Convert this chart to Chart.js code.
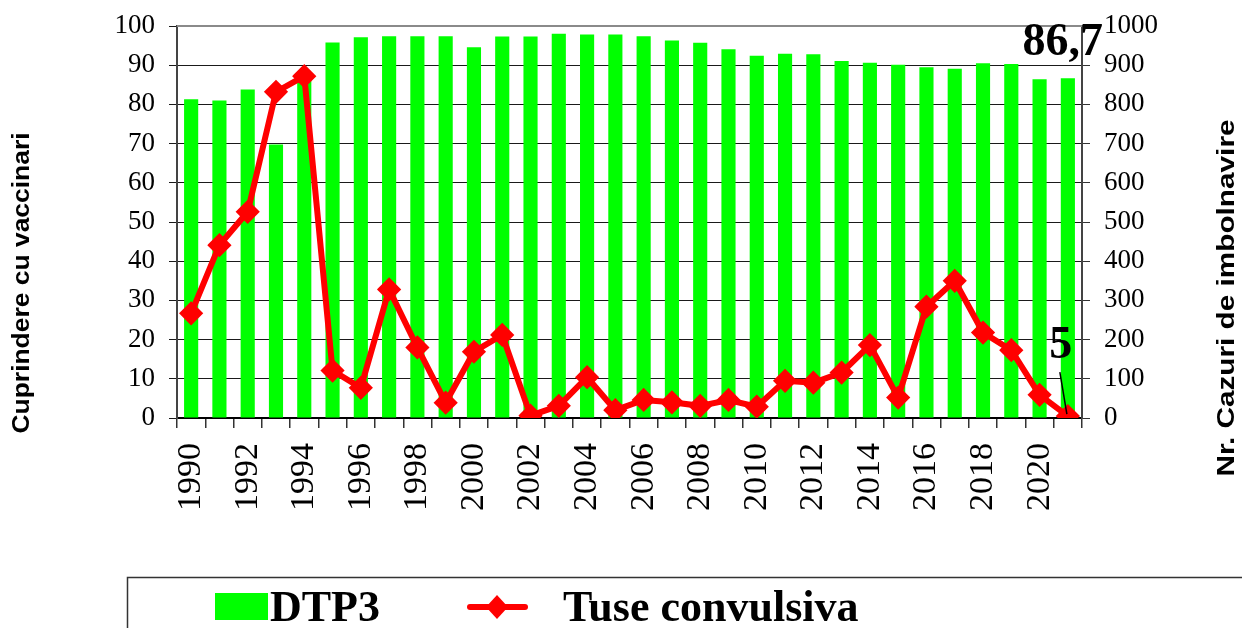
<!DOCTYPE html>
<html>
<head>
<meta charset="utf-8">
<script src="https://cdn.jsdelivr.net/npm/chart.js@4.4.1/dist/chart.umd.min.js"></script>
<style>
  html, body { margin: 0; padding: 0; background: #fff; }
  #wrap { width: 1242px; height: 628px; }
</style>
</head>
<body>
<div id="wrap"><canvas id="c" width="1242" height="628"></canvas></div>
<script>
const years = ['1990','1991','1992','1993','1994','1995','1996','1997','1998','1999',
               '2000','2001','2002','2003','2004','2005','2006','2007','2008','2009',
               '2010','2011','2012','2013','2014','2015','2016','2017','2018','2019',
               '2020','2021'];
const dtp3 = [81.3, 81.0, 83.8, 69.8, 87.0, 95.8, 97.1, 97.4, 97.4, 97.4,
              94.6, 97.3, 97.3, 98.0, 97.8, 97.8, 97.4, 96.3, 95.7, 94.1,
              92.4, 92.9, 92.8, 91.1, 90.6, 90.1, 89.5, 89.1, 90.5, 90.3,
              86.4, 86.7];
const tuse = [267, 441, 526, 832, 872, 121, 77, 328, 180, 39,
              169, 212, 6, 31, 104, 20, 46, 40, 31, 46,
              29, 95, 90, 116, 186, 52, 284, 350, 218, 173,
              59, 5];
const seriesNames = ['DTP3', 'Tuse convulsiva'];
const leftTitle = 'Cuprindere cu vaccinari';
const rightTitle = 'Nr. Cazuri de imbolnavire';

const GREEN = '#00FF00';
const RED = '#FF0000';
const SERIF = '"Liberation Serif", "Times New Roman", serif';
const SANS = '"Liberation Sans", Arial, sans-serif';

const extras = {
  id: 'extras',
  afterDraw(chart) {
    const ctx = chart.ctx;
    const area = chart.chartArea;
    ctx.save();
    // top border
    ctx.strokeStyle = '#8a8a8a';
    ctx.lineWidth = 2;
    ctx.beginPath();
    ctx.moveTo(area.left, area.top);
    ctx.lineTo(area.right, area.top);
    ctx.stroke();

    // data labels on last items
    const barMeta = chart.getDatasetMeta(1);
    const lineMeta = chart.getDatasetMeta(0);
    const lastBar = barMeta.data[barMeta.data.length - 1];
    const lastPt = lineMeta.data[lineMeta.data.length - 1];
    ctx.fillStyle = '#000';
    ctx.font = 'bold 46px ' + SERIF;
    ctx.textAlign = 'center';
    ctx.textBaseline = 'alphabetic';
    const barTxt = String(dtp3[dtp3.length - 1]).replace('.', ',');
    ctx.fillText(barTxt, lastBar.x - 5, lastBar.y - 23);
    const ptTxt = String(tuse[tuse.length - 1]);
    ctx.fillText(ptTxt, lastPt.x - 7, lastPt.y - 58);
    ctx.strokeStyle = '#000';
    ctx.lineWidth = 1.5;
    ctx.beginPath();
    ctx.moveTo(lastPt.x - 8, lastPt.y - 44);
    ctx.lineTo(lastPt.x - 1, lastPt.y - 2);
    ctx.stroke();

    // axis titles
    function vText(t, cx, cy, len) {
      ctx.save();
      ctx.font = 'bold 23px ' + SANS;
      ctx.fillStyle = '#000';
      ctx.translate(cx, cy);
      ctx.rotate(-Math.PI / 2);
      const w = ctx.measureText(t).width;
      ctx.scale(len / w, 1);
      ctx.textAlign = 'center';
      ctx.textBaseline = 'middle';
      ctx.fillText(t, 0, 0);
      ctx.restore();
    }
    vText(leftTitle, 23, 283, 301);
    vText(rightTitle, 1228, 298, 357);

    // legend
    ctx.strokeStyle = '#333';
    ctx.lineWidth = 1.5;
    ctx.strokeRect(127.5, 577.5, 1200, 120);
    const ds = chart.data.datasets;
    const barDs = ds[1], lineDs = ds[0];
    ctx.fillStyle = barDs.backgroundColor;
    ctx.fillRect(215, 593, 53, 27);
    ctx.fillStyle = '#000';
    ctx.font = 'bold 44px ' + SERIF;
    ctx.textAlign = 'left';
    ctx.textBaseline = 'alphabetic';
    ctx.fillText(barDs.label, 270, 621);
    ctx.strokeStyle = lineDs.borderColor;
    ctx.lineWidth = 6;
    ctx.lineCap = 'round';
    ctx.beginPath();
    ctx.moveTo(470, 607);
    ctx.lineTo(525, 607);
    ctx.stroke();
    ctx.fillStyle = lineDs.borderColor;
    ctx.beginPath();
    ctx.moveTo(497, 595); ctx.lineTo(508, 607); ctx.lineTo(497, 619); ctx.lineTo(486, 607);
    ctx.closePath();
    ctx.fill();
    ctx.fillStyle = '#000';
    ctx.fillText(lineDs.label, 563, 621);
    ctx.restore();
  }
};

new Chart(document.getElementById('c'), {
  data: {
    labels: years,
    datasets: [
      {
        type: 'line',
        label: seriesNames[1],
        data: tuse,
        yAxisID: 'y1',
        borderColor: RED,
        backgroundColor: RED,
        borderWidth: 6,
        pointStyle: 'rectRot',
        pointRadius: 10,
        pointBorderWidth: 3,
        pointBackgroundColor: RED,
        pointBorderColor: RED,
        tension: 0,
        order: 1
      },
      {
        type: 'bar',
        label: seriesNames[0],
        data: dtp3,
        yAxisID: 'y',
        backgroundColor: GREEN,
        borderWidth: 0,
        categoryPercentage: 1.0,
        barPercentage: 0.5,
        order: 2
      }
    ]
  },
  options: {
    responsive: false,
    animation: false,
    layout: { padding: { top: 26, left: 0, right: 0, bottom: 0 } },
    plugins: { legend: { display: false }, tooltip: { enabled: false } },
    scales: {
      x: {
        offset: true,
        grid: { display: true, offset: true, drawOnChartArea: false, drawTicks: true, tickLength: 10, color: '#333', lineWidth: 1.5 },
        border: { display: true, color: '#000', width: 2 },
        ticks: {
          autoSkip: false,
          minRotation: 90,
          maxRotation: 90,
          padding: 15,
          color: '#000',
          font: { family: SERIF, size: 34 },
          callback: function(v, i) { return i % 2 === 0 ? this.getLabelForValue(v) : ''; }
        },
        afterFit: s => { s.height = 210; s.paddingLeft = 0; s.paddingRight = 0; }
      },
      y: {
        position: 'left',
        min: 0, max: 100,
        ticks: { stepSize: 10, color: '#000', padding: 14, font: { family: SERIF, size: 27 } },
        grid: { color: '#1a1a1a', lineWidth: 1, tickLength: 8 },
        border: { display: true, color: '#444', width: 2 },
        afterFit: s => { s.width = 177; s.paddingTop = 0; s.paddingBottom = 0; }
      },
      y1: {
        position: 'right',
        min: 0, max: 1000,
        ticks: { stepSize: 100, color: '#000', padding: 14, font: { family: SERIF, size: 27 },
                 callback: v => String(v) },
        grid: { drawOnChartArea: false, color: '#333', tickLength: 8 },
        border: { display: true, color: '#444', width: 2 },
        afterFit: s => { s.width = 160; s.paddingTop = 0; s.paddingBottom = 0; }
      }
    }
  },
  plugins: [extras]
});
</script>
</body>
</html>
